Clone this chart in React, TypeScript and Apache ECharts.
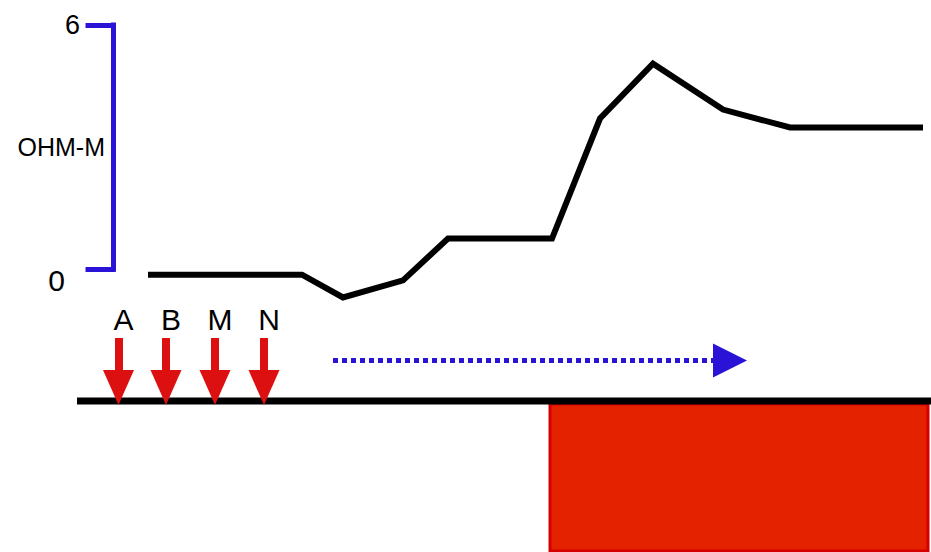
import React, { useEffect, useRef } from "react";
import * as echarts from "echarts";

// Resistivity profile (x: station position, y: apparent resistivity OHM-M)
const profileX = [3.5, 18.9, 23.0, 29.0, 33.5, 43.9, 48.7, 54.0, 61.0, 67.7, 81.0];
const profileY = [-0.14, -0.14, -0.7, -0.28, 0.75, 0.75, 3.7, 5.05, 3.92, 3.48, 3.48];

// Resistivity axis ticks
const yTicks = [0, 6];
const yAxisName = "OHM-M";

// Electrodes on the ground surface
const electrodeNames = ["A", "B", "M", "N"];
const electrodeX = [0.55, 5.3, 10.2, 15.1];

// Ground surface, survey direction and buried body
const groundX = [-3.6, 81.8];
const surveyArrowX = [22, 61.7];
const bodyX = [43.7, 81.5];
const bodyDepth = [-0.3, -15];

const FONT = "Liberation Sans, Arial, Helvetica, sans-serif";
const BLUE = "#2a12d6";
const RED = "#dc1010";

export default function App() {
  const ref = useRef<HTMLDivElement>(null);

  useEffect(() => {
    if (!ref.current) return;
    const chart = echarts.init(ref.current, null, { renderer: "svg" });

    const electrodeLines = electrodeNames.map((n, i) => [
      {
        name: n,
        coord: [electrodeX[i], 6.3],
        symbol: "none",
        lineStyle: { color: RED, width: 8, type: "solid" },
        label: {
          show: true,
          position: "start",
          formatter: "{b}",
          distance: 4,
          color: "#000",
          fontSize: 30,
          fontFamily: FONT,
          padding: [0, 0, 0, 10],
        },
      },
      { coord: [electrodeX[i], 1.35], symbol: "triangle", symbolSize: [31, 35] },
    ]);

    const surveyLine = [
      {
        name: "",
        coord: [surveyArrowX[0], 4.05],
        symbol: "none",
        lineStyle: { color: BLUE, width: 5, type: [5, 4] },
        label: { show: false },
      },
      { coord: [surveyArrowX[1], 4.05], symbol: "triangle", symbolSize: [34, 34] },
    ];

    chart.setOption({
      animation: false,
      backgroundColor: "#ffffff",
      grid: [
        { left: 113, top: 25, width: 820, height: 244, outerBoundsMode: "none", containLabel: false },
        { left: 63, top: 291, width: 870, height: 261, outerBoundsMode: "none", containLabel: false },
      ],
      xAxis: [
        { type: "value", gridIndex: 0, min: 0, max: 82, show: false },
        { type: "value", gridIndex: 1, min: -5, max: 82, show: false },
      ],
      yAxis: [
        {
          type: "value",
          gridIndex: 0,
          min: yTicks[0],
          max: yTicks[1],
          interval: yTicks[1] - yTicks[0],
          axisLine: { show: true, onZero: false, lineStyle: { color: BLUE, width: 5, cap: "square" } },
          axisTick: { show: true, length: 25, lineStyle: { color: BLUE, width: 5, cap: "square" } },
          splitLine: { show: false },
          axisLabel: {
            show: true,
            margin: 33,
            formatter: (v: number) => (v === 0 ? "{z|" + v + "}" : "{s|" + v + "}"),
            rich: {
              s: { fontSize: 27, color: "#000", fontFamily: FONT },
              z: { fontSize: 30, color: "#000", fontFamily: FONT, padding: [22, 15, 0, 0] },
            },
          },
          name: yAxisName,
          nameLocation: "middle",
          nameGap: 8,
          nameRotate: 0,
          nameMoveOverlap: false,
          nameTextStyle: { fontSize: 25, color: "#000", fontFamily: FONT, padding: [8, 0, 0, 0] },
        },
        { type: "value", gridIndex: 1, min: -15.1, max: 11, show: false },
      ],
      series: [
        {
          type: "line",
          xAxisIndex: 0,
          yAxisIndex: 0,
          clip: false,
          silent: true,
          symbol: "none",
          data: profileX.map((x, i) => [x, profileY[i]]),
          lineStyle: { color: "#000", width: 6, join: "miter" },
        },
        {
          type: "line",
          xAxisIndex: 1,
          yAxisIndex: 1,
          silent: true,
          symbol: "none",
          data: groundX.map((x) => [x, 0]),
          lineStyle: { color: "#000", width: 7 },
          z: 3,
          markArea: {
            silent: true,
            itemStyle: { color: "#e42200", borderColor: "#d60000", borderWidth: 3 },
            data: [[{ coord: [bodyX[0], bodyDepth[0]] }, { coord: [bodyX[1], bodyDepth[1]] }]],
          },
          markLine: {
            silent: true,
            animation: false,
            symbol: ["none", "triangle"],
            label: { show: false },
            emphasis: { disabled: true },
            data: [...electrodeLines, surveyLine],
          },
        },
      ],
    });

    return () => chart.dispose();
  }, []);

  return (
    <div
      ref={ref}
      style={{ position: "fixed", left: 0, top: 0, width: 931, height: 552, background: "#fff" }}
    />
  );
}
